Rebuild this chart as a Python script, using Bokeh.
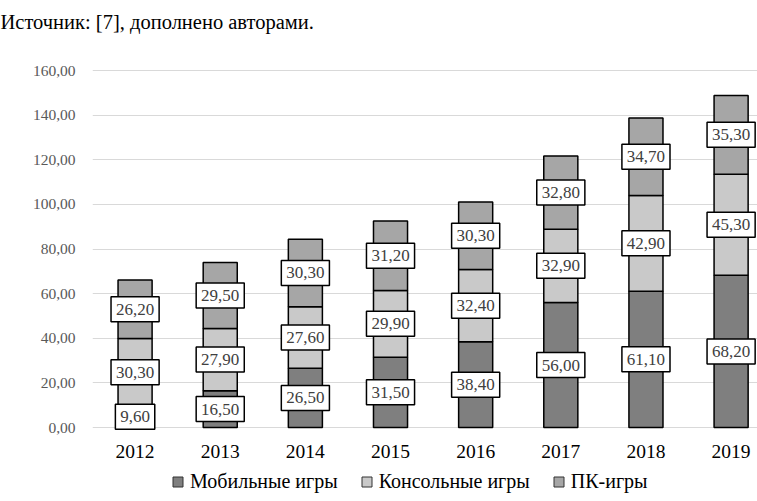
from bokeh.plotting import figure
from bokeh.models import ColumnDataSource, Range1d, FixedTicker, Legend, LegendItem
from bokeh.core.properties import value
from bokeh.embed import file_html
from bokeh.resources import INLINE

# ---- data ----
years = ["2012", "2013", "2014", "2015", "2016", "2017", "2018", "2019"]
mobile = [9.6, 16.5, 26.5, 31.5, 38.4, 56.0, 61.1, 68.2]
console = [30.3, 27.9, 27.6, 29.9, 32.4, 32.9, 42.9, 45.3]
pc = [26.2, 29.5, 30.3, 31.2, 30.3, 32.8, 34.7, 35.3]
series_names = ["Мобильные игры", "Консольные игры", "ПК-игры"]
y_ticks = [0, 20, 40, 60, 80, 100, 120, 140, 160]
y_tick_labels = ["0,00", "20,00", "40,00", "60,00", "80,00", "100,00", "120,00", "140,00", "160,00"]
title_text = "Источник: [7], дополнено авторами."

colors = ["#7f7f7f", "#c9c9c9", "#a6a6a6"]
FONT = "Liberation Serif"

W, H = 757, 500
TOP = 40                       # frame top (px)
PX = (427 - 70) / 160.0        # px per unit, gridline 160 at y=70, 0 at y=427
y_end = 160 + (70 - TOP) / PX
y_start = -(H - 427) / PX

p = figure(width=W, height=H, output_backend="svg", toolbar_location=None,
           x_range=Range1d(-0.5, 7.31), y_range=Range1d(y_start, y_end),
           x_axis_location=None,
           min_border_left=92, min_border_right=0, min_border_top=TOP, min_border_bottom=0)
p.outline_line_color = None
p.background_fill_color = "white"

# title at the top-left
p.title.text = title_text
p.title.align = "left"
p.title.offset = -92
p.title.standoff = 12
p.title.vertical_align = "top"
p.title.text_font = FONT
p.title.text_font_size = "20.5px"
p.title.text_font_style = "normal"
p.title.text_color = "black"

xs = list(range(len(years)))
src = ColumnDataSource(dict(x=xs, mobile=mobile, console=console, pc=pc))
p.vbar_stack(["mobile", "console", "pc"], x="x", width=0.4, source=src,
             fill_color=colors, line_color="black", line_width=1.5)

# data labels
lx, ly, lt, lw = [], [], [], []
for i in range(len(years)):
    base = 0.0
    for v in (mobile[i], console[i], pc[i]):
        lx.append(xs[i])
        ly.append(base + v / 2)
        s = f"{v:.2f}".replace(".", ",")
        lt.append(s)
        nd = sum(ch.isdigit() for ch in s)
        lw.append(nd * 8.7 + 4.3 + 9)
        base += v
lsrc = ColumnDataSource(dict(x=lx, y=ly, t=lt, w=lw))
p.rect(x="x", y="y", width="w", height=25, width_units="screen", height_units="screen",
       fill_color="white", line_color="black", line_width=1.5, source=lsrc)
p.text(x="x", y="y", text="t", text_align="center", text_baseline="middle",
       text_font=value(FONT), text_font_size="17px", text_color="#404040", source=lsrc)

# y axis and grid
p.xgrid.grid_line_color = None
p.ygrid.grid_line_color = "#d9d9d9"
p.ygrid.grid_line_width = 1

p.yaxis.ticker = FixedTicker(ticks=y_ticks)
p.yaxis.major_label_overrides = {t: l for t, l in zip(y_ticks, y_tick_labels)}
p.yaxis.axis_line_color = None
p.yaxis.major_tick_line_color = None
p.yaxis.minor_tick_line_color = None
p.yaxis.major_label_standoff = 11
p.yaxis.major_label_text_font = FONT
p.yaxis.major_label_text_font_size = "15.5px"
p.yaxis.major_label_text_color = "#595959"

# category labels under the bars
ysrc = ColumnDataSource(dict(x=xs, y=[0] * len(xs), t=years))
p.text(x="x", y="y", text="t", y_offset=23.5, text_align="center", text_baseline="middle",
       text_font=value(FONT), text_font_size="19.5px", text_color="black", source=ysrc)

# legend with square markers
items = []
for name, c, vals in zip(series_names, colors, (mobile, console, pc)):
    r = p.scatter(x=xs, y=vals, marker="square", size=10, fill_color=c,
                  line_color="#333333", line_width=1, visible=False)
    items.append(LegendItem(label=name, renderers=[r]))
legend = Legend(items=items, location=(73, 6), orientation="horizontal",
                glyph_width=25, glyph_height=25, label_height=25, label_standoff=0,
                spacing=16, padding=0, margin=0, border_line_color=None,
                background_fill_alpha=0, inactive_fill_alpha=0, label_text_font=FONT,
                label_text_font_size="20px", label_text_color="black")
p.add_layout(legend)

open("out.html", "w").write(file_html(p, INLINE))
